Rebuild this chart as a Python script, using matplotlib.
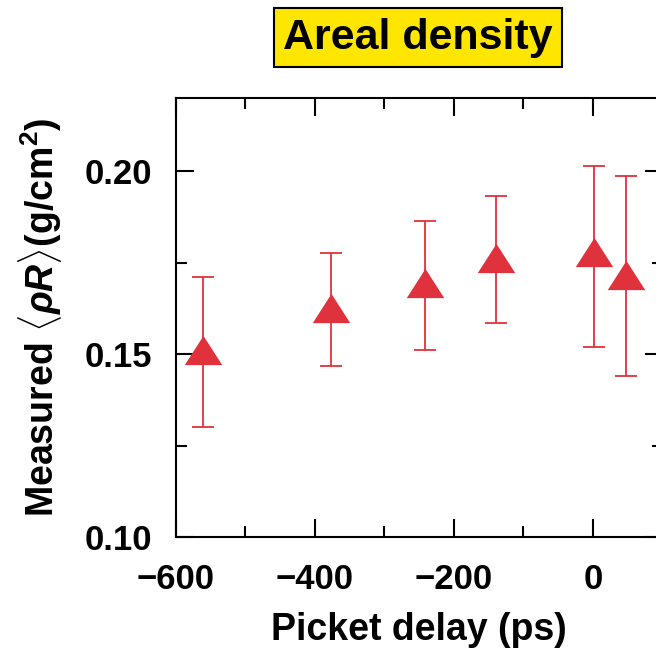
import numpy as np
import matplotlib.pyplot as plt
from matplotlib.ticker import MultipleLocator

plt.rcParams['font.family'] = ['Liberation Sans', 'DejaVu Sans']
plt.rcParams['mathtext.fontset'] = 'custom'
plt.rcParams['mathtext.rm'] = 'Liberation Sans:bold'
plt.rcParams['mathtext.it'] = 'Liberation Sans:italic:bold'
plt.rcParams['mathtext.bf'] = 'Liberation Sans:bold'

# picket delay (ps) and measured areal density (g/cm^2)
delay = [-561, -377, -241, -140, 1, 47]
rho_r = [0.151, 0.1627, 0.1695, 0.1763, 0.178, 0.1717]
err_hi = [0.171, 0.1777, 0.1864, 0.1932, 0.2014, 0.1986]
err_lo = [0.130, 0.1466, 0.1512, 0.1586, 0.152, 0.1439]

red = '#e0323c'

fig = plt.figure(figsize=(6.56, 6.53), dpi=100)
ax = fig.add_axes([0.268, 0.1777, 0.742, 0.6723])

yerr = np.array([np.array(rho_r) - np.array(err_lo), np.array(err_hi) - np.array(rho_r)])
tri = [(-1, -0.78), (1, -0.78), (0, 0.78)]
ax.errorbar(delay, rho_r, yerr=yerr, fmt='none', ecolor=red, elinewidth=1.3,
            capsize=8, capthick=1.3, zorder=2)
ax.plot(delay, rho_r, linestyle='none', marker=tri, markersize=27,
        color=red, markeredgewidth=0, zorder=3)

ax.set_xlim(-600, 100)
ax.set_ylim(0.10, 0.22)
ax.xaxis.set_minor_locator(MultipleLocator(100))
ax.yaxis.set_minor_locator(MultipleLocator(0.025))
ax.set_xticks([-600, -400, -200, 0])
ax.set_xticklabels(['\u2212600', '\u2212400', '\u2212200', '0'])
ax.set_yticks([0.10, 0.15, 0.20])
ax.set_yticklabels(['0.10', '0.15', '0.20'])

for s in ax.spines.values():
    s.set_linewidth(1.5)
ax.tick_params(which='both', direction='in', top=True, right=True, width=1.5,
               labelsize=25)
ax.tick_params(axis='x', pad=19)
ax.tick_params(axis='y', pad=17)
ax.tick_params(which='major', length=13)
ax.tick_params(which='minor', length=8)
for lab in ax.get_xticklabels() + ax.get_yticklabels():
    lab.set_fontweight('bold')

ax.set_xlabel('Picket delay (ps)', fontsize=27, fontweight='bold', labelpad=11)
ax.set_ylabel(r'Measured $\langle\rho R\rangle$(g/cm$^2$)', fontsize=27,
              fontweight='bold', labelpad=15)

fig.text(0.637, 0.942, 'Areal density', fontsize=31, fontweight='bold',
         ha='center', va='center',
         bbox=dict(boxstyle='square,pad=0.22', facecolor='#ffe600',
                   edgecolor='black', linewidth=1.5))

fig.savefig('out.png', dpi=100)
